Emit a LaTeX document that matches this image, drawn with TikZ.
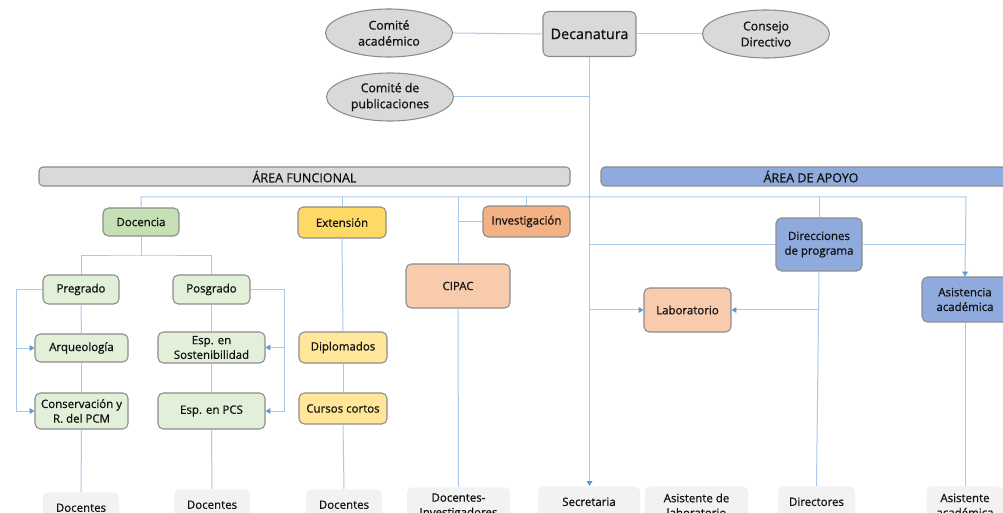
\documentclass[tikz,border=0pt]{standalone}
\usepackage{fontspec}
\setmainfont{Open Sans}[FakeBold=0.7]
\usetikzlibrary{shapes.geometric,arrows.meta}
\definecolor{cgray}{HTML}{D9D9D9}
\definecolor{cborder}{HTML}{8C8C8C}
\definecolor{cgreen}{HTML}{C5E0B4}
\definecolor{cgreenl}{HTML}{E2F0D9}
\definecolor{cyel}{HTML}{FFD966}
\definecolor{cyell}{HTML}{FFE699}
\definecolor{corg}{HTML}{F4B183}
\definecolor{corgl}{HTML}{F8CBAD}
\definecolor{cblue}{HTML}{8FAADC}
\definecolor{cleaf}{HTML}{F2F2F2}
\definecolor{cline}{HTML}{A9C9EC}
\definecolor{carrow}{HTML}{5B9BD5}
\definecolor{ctext}{HTML}{111111}
\begin{document}
\begin{tikzpicture}[x=0.75pt,y=-0.75pt,
  every node/.style={text=ctext, align=center, inner sep=0pt, font=\fontsize{8.6}{11}\selectfont},
  sz/.style 2 args={minimum width=#1*0.75pt, minimum height=#2*0.75pt},
  orgbox/.style={draw=cborder, line width=0.8pt, rounded corners=4pt},
  oval/.style={ellipse, draw=cborder, line width=0.8pt, fill=cgray, minimum width=127*0.75pt, minimum height=48*0.75pt, font=\fontsize{9.2}{12}\selectfont},
  bar/.style={orgbox, rounded corners=3pt, font=\fontsize{9.4}{11}\selectfont, minimum height=19*0.75pt},
  leaf/.style={fill=cleaf, rounded corners=4pt, anchor=north},
  conn/.style={draw=cline, line width=0.75pt},
  arr/.style={-{Triangle[length=3.6pt,width=4.2pt,color=carrow]}}
]
\useasboundingbox (0,0) rectangle (1003,513);
\clip (0,0) rectangle (1003,513);

% top
\node[orgbox, fill=cgray, sz={93}{45}, font=\fontsize{10.8}{13}\selectfont] (deca) at (589.5,34) {Decanatura};
\node[oval] (cacad) at (389,33) {Comité\\académico};
\node[oval] (cdir) at (766,34) {Consejo\\Directivo};
\node[oval] (cpub) at (390,97) {Comité de\\publicaciones};

% bars
\node[bar, fill=cgray, sz={531}{19}] (afun) at (304.5,176.5) {ÁREA FUNCIONAL};
\node[bar, fill=cblue, sz={420}{19}] (aapo) at (811,176.5) {ÁREA DE APOYO};

% level 1
\node[orgbox, fill=cgreen, sz={76}{28}] (doc) at (141,222) {Docencia};
\node[orgbox, fill=cyel, sz={88}{31}] (ext) at (342,222.5) {Extensión};
\node[orgbox, fill=corg, sz={87}{31}] (inv) at (526.5,221.5) {Investigación};
\node[orgbox, fill=corgl, sz={104}{44}] (cipac) at (458,286) {CIPAC};
\node[orgbox, fill=cblue, sz={86}{53}] (dirp) at (819,244.5) {Direcciones\\de programa};
\node[orgbox, fill=corgl, sz={87}{44}] (lab) at (687.5,310) {Laboratorio};
\node[orgbox, fill=cblue, sz={86}{45}] (asis) at (965,299.5) {Asistencia\\académica};

% docencia tree
\node[orgbox, fill=cgreenl, sz={76}{29}] (preg) at (81,289.5) {Pregrado};
\node[orgbox, fill=cgreenl, sz={77}{29}] (posg) at (211.5,289.5) {Posgrado};
\node[orgbox, fill=cgreenl, sz={93}{28}] (arq) at (81.5,348) {Arqueología};
\node[orgbox, fill=cgreenl, sz={93}{36}] (cons) at (81.5,411) {Conservación y\\R. del PCM};
\node[orgbox, fill=cgreenl, sz={107}{31}] (sost) at (211.5,347.5) {Esp. en\\Sostenibilidad};
\node[orgbox, fill=cgreenl, sz={107}{36}] (pcs) at (211.5,411) {Esp. en PCS};

% extension tree
\node[orgbox, fill=cyell, sz={88}{31}] (dipl) at (343,347.5) {Diplomados};
\node[orgbox, fill=cyell, sz={88}{31}] (curs) at (343,408.5) {Cursos cortos};

% leaves
\node[leaf, sz={76}{31}] (doc1) at (81,492) {Docentes};
\node[leaf, sz={76}{31}] (doc2) at (212,489) {Docentes};
\node[leaf, sz={76}{31}] (doc3) at (344,489) {Docentes};
\node[leaf, sz={103}{38}] (docinv) at (458.5,487) {Docentes-\\Investigadores};
\node[leaf, sz={102}{31}] (secr) at (589,486) {Secretaria};
\node[leaf, sz={103}{38}] (alab) at (696.5,486) {Asistente de\\laboratorio};
\node[leaf, sz={77}{31}] (dirs) at (816.5,486) {Directores};
\node[leaf, sz={77}{38}] (aacad) at (965,486) {Asistente\\académica};

% helper coordinates
\coordinate (busR) at (966,197);
\coordinate (dj) at (141,256);
\coordinate (lb) at (16,289.5);
\coordinate (rb) at (284,289.5);

% top connectors
\draw[conn] (cacad.east) -- (deca.west);
\draw[conn] (deca.east) -- (cdir.west);
\draw[conn] (cpub.east) -- (cpub.east -| deca.south);
\draw[conn,arr] (deca.south) -- (deca.south |- secr.north);

% bus
\draw[conn,arr] (doc.north) |- (busR) -- (asis.north);
\draw[conn] (ext.north) -- (ext.north |- busR);
\draw[conn] (inv.north) -- (inv.north |- busR);
\draw[conn] (cipac.north) -- (cipac.north |- busR);
\draw[conn] (inv.west) -- (inv.west -| cipac.north);
\draw[conn] (dirp.north) -- (dirp.north |- busR);

% apoyo
\draw[conn] (dirp.west) -- (dirp.west -| deca.south);
\draw[conn] (dirp.east) -- (dirp.east -| asis.north);
\draw[conn,arr] (lab.west -| deca.south) -- (lab.west);
\draw[conn,arr] (lab.east -| dirp.south) -- (lab.east);
\draw[conn] (dirp.south) -- (dirs.north);
\draw[conn] (asis.south) -- (aacad.north);
\draw[conn] (cipac.south) -- (docinv.north);

% extension
\draw[conn] (ext.south) -- (dipl.north);
\draw[conn] (dipl.south) -- (curs.north);
\draw[conn] (curs.south) -- (doc3.north);

% docencia
\draw[conn] (doc.south) -- (dj);
\draw[conn] (preg.north) |- (dj) -| (posg.north);
\draw[conn] (preg.south) -- (arq.north);
\draw[conn] (arq.south) -- (cons.north);
\draw[conn] (cons.south) -- (doc1.north);
\draw[conn] (posg.south) -- (sost.north);
\draw[conn] (sost.south) -- (pcs.north);
\draw[conn] (pcs.south) -- (doc2.north);
\draw[conn,arr] (preg.west) -- (lb) |- (cons.west);
\draw[conn,arr] (lb |- arq.west) -- (arq.west);
\draw[conn,arr] (posg.east) -- (rb) |- (pcs.east);
\draw[conn,arr] (rb |- sost.east) -- (sost.east);
\end{tikzpicture}
\end{document}
